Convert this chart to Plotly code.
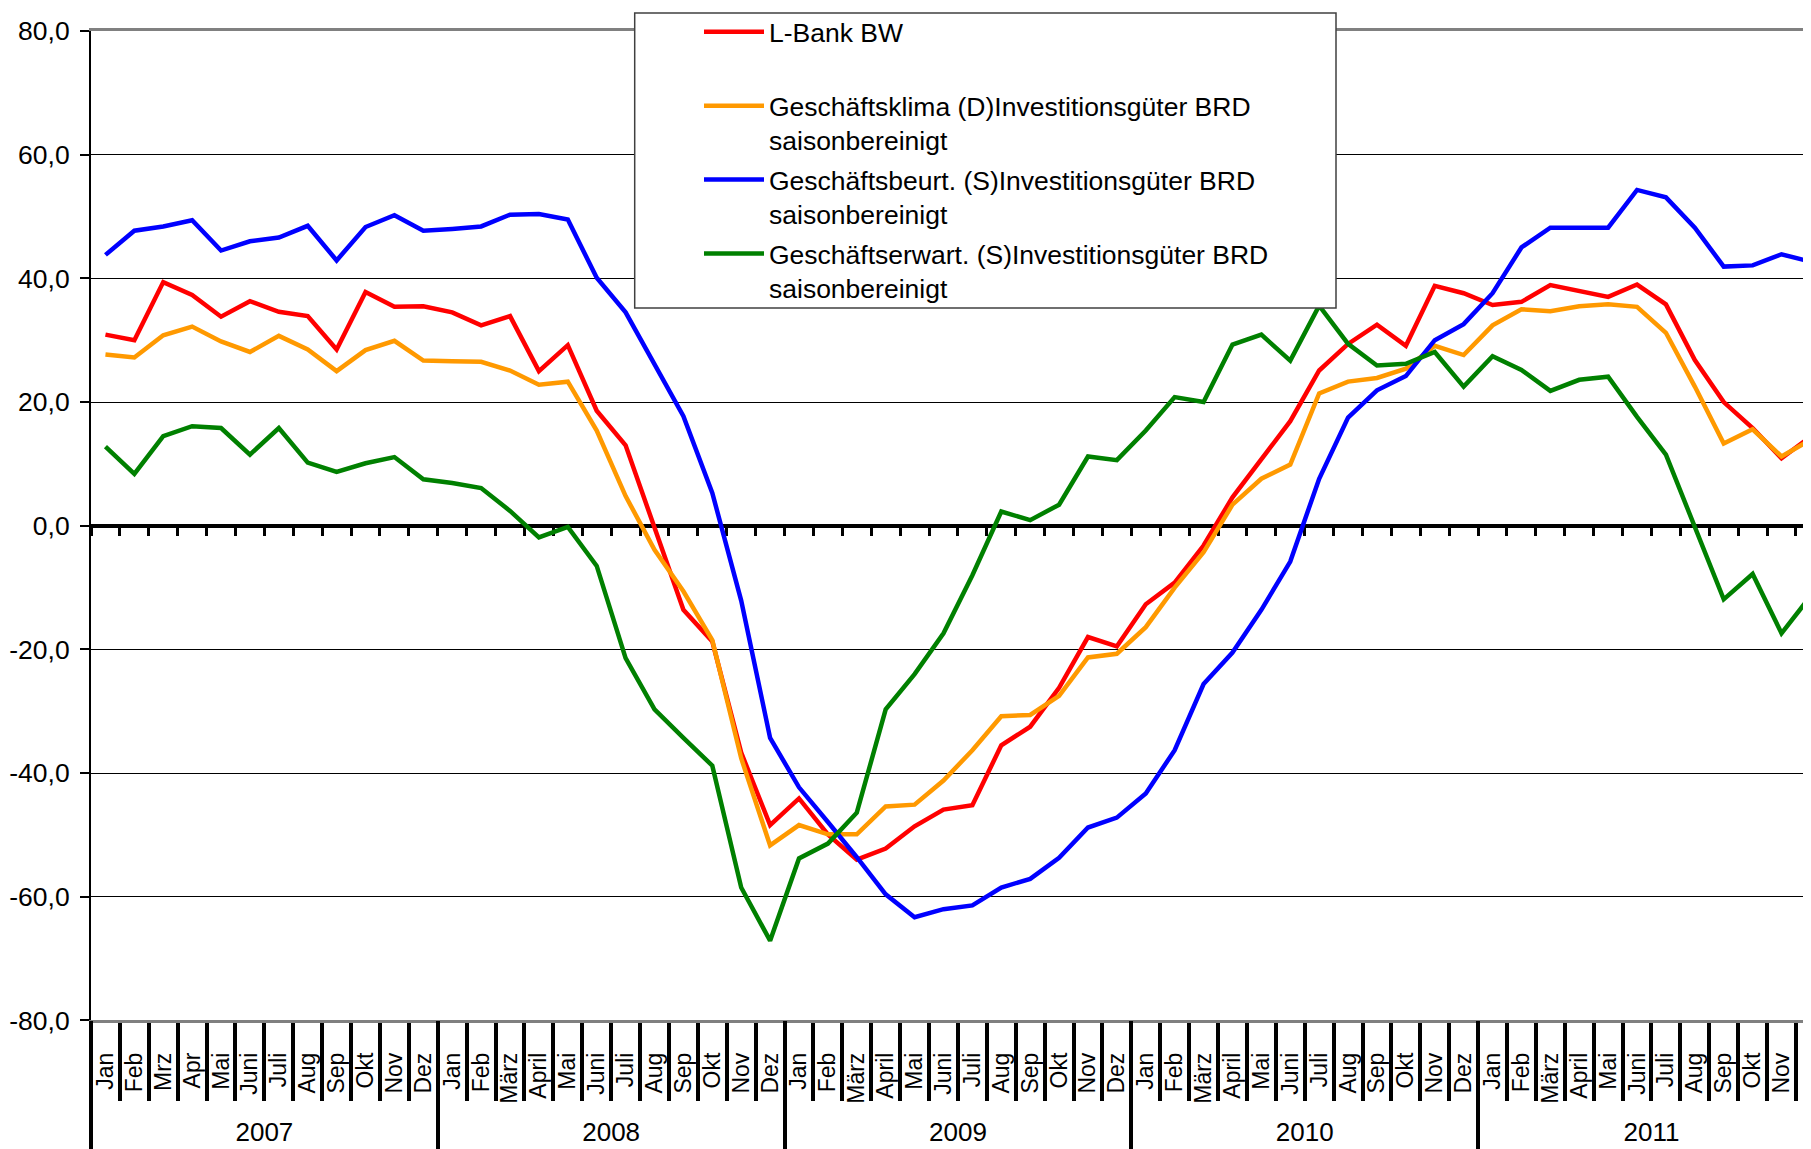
import plotly.graph_objects as go

years = ["2007", "2008", "2009", "2010", "2011"]
months_2007 = ["Jan", "Feb", "Mrz", "Apr", "Mai", "Juni", "Juli", "Aug", "Sep", "Okt", "Nov", "Dez"]
months_later = ["Jan", "Feb", "März", "April", "Mai", "Juni", "Juli", "Aug", "Sep", "Okt", "Nov", "Dez"]
month_labels = months_2007 + months_later * 4

lbank = [30.9, 30.0, 39.4, 37.3, 33.8, 36.3, 34.6, 33.9, 28.5, 37.8, 35.4, 35.5,
         34.5, 32.4, 33.9, 25.0, 29.2, 18.6, 13.0, -0.5, -13.6, -18.7, -36.7, -48.4,
         -44.1, -49.9, -54.0, -52.2, -48.6, -45.9, -45.2, -35.5, -32.5, -26.2, -18.0, -19.5,
         -12.7, -9.2, -3.2, 4.6, 10.8, 16.9, 25.1, 29.4, 32.5, 29.1, 38.8, 37.6,
         35.7, 36.2, 38.9, 38.0, 37.0, 39.0, 35.8, 26.8, 20.0, 15.8, 10.9, 14.4]
klima = [27.7, 27.2, 30.8, 32.2, 29.8, 28.1, 30.7, 28.5, 25.0, 28.4, 29.9, 26.7,
         26.6, 26.5, 25.1, 22.8, 23.3, 15.4, 4.8, -3.9, -10.6, -18.5, -37.6, -51.7,
         -48.4, -49.9, -49.9, -45.4, -45.1, -41.2, -36.3, -30.8, -30.6, -27.5, -21.3, -20.7,
         -16.4, -10.0, -4.3, 3.4, 7.6, 9.9, 21.4, 23.3, 23.9, 25.4, 29.1, 27.6,
         32.4, 35.0, 34.7, 35.5, 35.8, 35.4, 31.2, 22.5, 13.3, 15.6, 11.2, 13.9]
beurt = [43.8, 47.7, 48.4, 49.4, 44.5, 46.0, 46.6, 48.5, 42.9, 48.3, 50.2, 47.7,
         48.0, 48.4, 50.3, 50.4, 49.5, 40.1, 34.5, 26.1, 17.7, 5.3, -12.1, -34.3,
         -42.3, -47.9, -53.6, -59.6, -63.3, -62.0, -61.4, -58.5, -57.1, -53.7, -48.8, -47.2,
         -43.3, -36.3, -25.6, -20.5, -13.6, -5.8, 7.6, 17.5, 21.9, 24.2, 30.0, 32.6,
         37.6, 45.0, 48.2, 48.2, 48.2, 54.3, 53.1, 48.2, 41.9, 42.1, 43.9, 42.7]
erwart = [12.8, 8.4, 14.5, 16.1, 15.8, 11.5, 15.8, 10.2, 8.7, 10.1, 11.1, 7.5,
          6.9, 6.1, 2.4, -1.9, -0.2, -6.5, -21.4, -29.7, -34.3, -38.8, -58.5, -67.1,
          -53.8, -51.4, -46.4, -29.7, -24.0, -17.4, -8.0, 2.3, 0.9, 3.4, 11.2, 10.6,
          15.4, 20.8, 20.0, 29.3, 30.9, 26.7, 35.6, 29.4, 25.9, 26.2, 28.1, 22.5,
          27.4, 25.2, 21.8, 23.6, 24.1, 17.6, 11.5, -0.3, -11.9, -7.8, -17.4, -11.4]

y_ticks = [-80, -60, -40, -20, 0, 20, 40, 60, 80]
y_ticktext = ["-80,0", "-60,0", "-40,0", "-20,0", "0,0", "20,0", "40,0", "60,0", "80,0"]

series = [
    ("L-Bank BW<br> ", lbank, "#FF0000"),
    ("Geschäftsklima (D)Investitionsgüter BRD<br>saisonbereinigt", klima, "#FF9900"),
    ("Geschäftsbeurt. (S)Investitionsgüter BRD<br>saisonbereinigt", beurt, "#0000FF"),
    ("Geschäftserwart. (S)Investitionsgüter BRD<br>saisonbereinigt", erwart, "#008000"),
]

n = len(month_labels)
xs = list(range(n))
xrange = [-0.5, 59.02]
boundaries = [i - 0.5 for i in range(n + 1)]
year_bounds = [i * 12 - 0.5 for i in range(len(years) + 1)]
year_centers = [i * 12 + 5.5 for i in range(len(years))]

FONT = "Liberation Sans, Arial, sans-serif"

# page body has an 8px margin: figure is sized so it ends exactly at the window edge
W, H = 1803, 1141
ML, MT = 83, 19
PW, PH = W - ML, H - MT


def px(sx):  # screen x -> paper fraction
    return (sx - 8 - ML) / PW


def py(sy):  # screen y -> paper fraction
    return 1 - (sy - 8 - MT) / PH


fig = go.Figure()
for i, (name, vals, col) in enumerate(series):
    fig.add_trace(go.Scatter(x=xs, y=vals, mode="lines", name=name, legendgroup=f"g{i}",
                             line=dict(color=col, width=4.5), xaxis="x", yaxis="y"))

ydom = [py(1020), 1.0]
y0_pos = ydom[0] + (ydom[1] - ydom[0]) * 0.5

fig.update_layout(
    width=W, height=H,
    margin=dict(l=ML, r=0, t=MT, b=0),
    paper_bgcolor="white", plot_bgcolor="white",
    font=dict(family=FONT, color="black"),
    showlegend=True,
    legend=dict(x=px(699), y=py(3.8), xanchor="left", yanchor="top",
                bgcolor="rgba(0,0,0,0)", borderwidth=0,
                font=dict(size=26.5, family=FONT, color="black"),
                valign="top", itemwidth=60, tracegroupgap=2),
    yaxis=dict(domain=ydom, range=[-80, 80], tickvals=y_ticks, ticktext=y_ticktext,
               showgrid=True, gridcolor="#000000", gridwidth=1, zeroline=False,
               showline=True, linecolor="black", linewidth=2,
               ticks="outside", ticklen=9, tickwidth=1.5, tickcolor="black",
               ticklabelstandoff=5,
               tickfont=dict(size=26.5, family=FONT), automargin=False),
    # month separators + bottom frame line
    xaxis=dict(range=xrange, tickvals=boundaries, ticks="outside", ticklen=78, tickwidth=4,
               tickcolor="black", showticklabels=False, showgrid=False, zeroline=False,
               showline=True, linecolor="#808080", linewidth=3, mirror=True,
               anchor="y", automargin=False),
    # month labels
    xaxis2=dict(range=xrange, overlaying="x", anchor="y", tickvals=xs, ticktext=month_labels,
                tickangle=-90, ticks="outside", ticklen=22, tickcolor="rgba(0,0,0,0)",
                tickfont=dict(size=23, family=FONT), showgrid=False, zeroline=False,
                showline=False, automargin=False),
    # year separators
    xaxis3=dict(range=xrange, overlaying="x", anchor="y", tickvals=year_bounds,
                ticks="outside", ticklen=140, tickwidth=4, tickcolor="black",
                showticklabels=False, showgrid=False, zeroline=False, showline=False,
                automargin=False),
    # year labels
    xaxis4=dict(range=xrange, overlaying="x", anchor="y", tickvals=year_centers, ticktext=years,
                ticks="outside", ticklen=88, tickcolor="rgba(0,0,0,0)",
                tickfont=dict(size=26, family=FONT), showgrid=False, zeroline=False,
                showline=False, automargin=False),
    # zero line with small ticks
    xaxis5=dict(range=xrange, overlaying="x", anchor="free", position=y0_pos,
                tickvals=boundaries, ticks="outside", ticklen=8, tickwidth=3, tickcolor="black",
                showticklabels=False, showgrid=False, zeroline=False,
                showline=True, linecolor="black", linewidth=4, layer="below traces",
                automargin=False),
    shapes=[dict(type="rect", xref="paper", yref="paper",
                 x0=px(634.7), x1=px(1336), y0=py(305), y1=py(9),
                 fillcolor="white", line=dict(color="#404040", width=1.5), layer="above")],
)

# invisible traces so overlay axes are rendered
for ax in ["x2", "x3", "x4", "x5"]:
    fig.add_trace(go.Scatter(x=[None], y=[None], xaxis=ax, yaxis="y", showlegend=False,
                             hoverinfo="skip"))

fig.write_html("out.html")
